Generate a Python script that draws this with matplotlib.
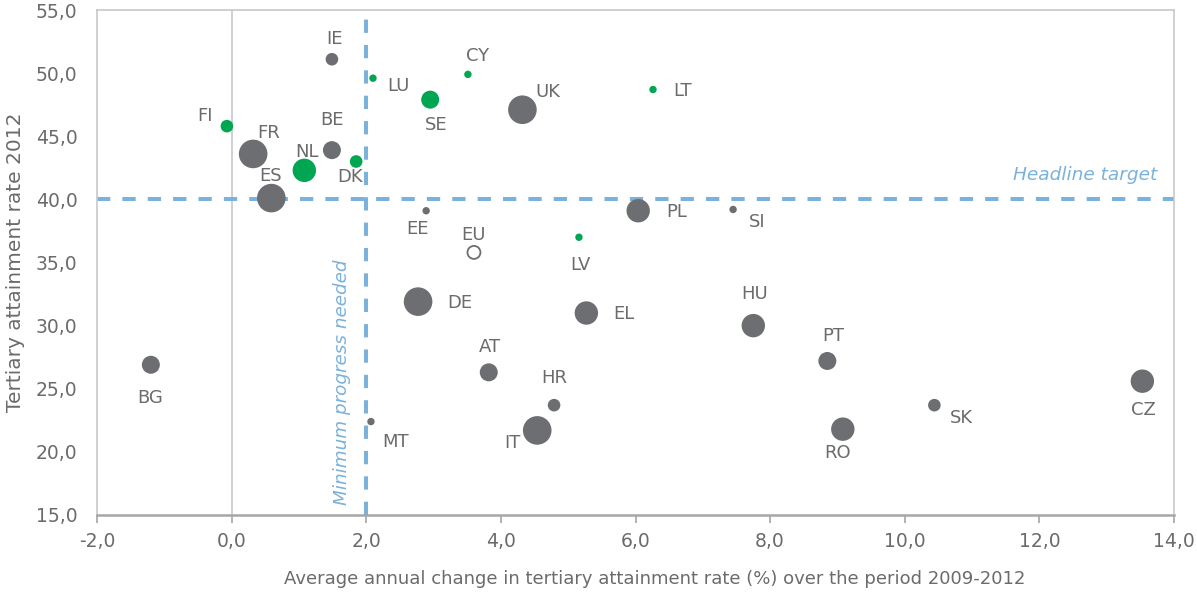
import matplotlib
matplotlib.use("Agg")
import matplotlib.pyplot as plt
import numpy as np

# ---- data ----
countries = ["IE", "LU", "FI", "FR", "BE", "NL", "DK", "ES", "CY", "SE", "UK", "LT",
             "EE", "LV", "PL", "SI", "DE", "EL", "HU", "AT", "HR", "MT", "IT", "BG",
             "PT", "RO", "SK", "CZ"]
change = [1.49, 2.10, -0.07, 0.32, 1.49, 1.08, 1.85, 0.59, 3.51, 2.95, 4.32, 6.26,
          2.89, 5.16, 6.04, 7.45, 2.77, 5.27, 7.75, 3.82, 4.79, 2.07, 4.54, -1.20,
          8.85, 9.08, 10.44, 13.53]
rate2012 = [51.1, 49.6, 45.8, 43.6, 43.9, 42.3, 43.0, 40.1, 49.9, 47.9, 47.1, 48.7,
            39.1, 37.0, 39.1, 39.2, 31.9, 31.0, 30.0, 26.3, 23.7, 22.4, 21.7, 26.9,
            27.2, 21.8, 23.7, 25.6]
size_class = [2, 1, 2, 5, 3, 4, 2, 5, 1, 3, 5, 1,
              1, 1, 4, 1, 5, 4, 4, 3, 2, 1, 5, 3,
              3, 4, 2, 4]
on_track = [False, True, True, False, False, True, True, False, True, True, False, True,
            False, True, False, False, False, False, False, False, False, False, False, False,
            False, False, False, False]
eu_label = "EU"
eu_change = 3.60
eu_rate = 35.8
headline_target = 40.0
min_progress = 2.0

xticks = np.arange(-2, 14.1, 2)
yticks = np.arange(15, 55.1, 5)

# label offsets in pixels (dx, dy up)
label_offsets = {
    "IE": (3, 20), "LU": (25, -8), "FI": (-22, 10), "FR": (15, 21), "BE": (0, 30),
    "NL": (3, 18), "DK": (-6, -16), "ES": (-1, 22), "CY": (10, 18), "SE": (6, -25),
    "UK": (25, 18), "LT": (30, -1), "EE": (-9, -18), "LV": (1, -28), "PL": (38, -1),
    "SI": (24, -13), "DE": (42, -1), "EL": (38, -1), "HU": (1, 32), "AT": (1, 25),
    "HR": (0, 27), "MT": (25, -20), "IT": (-25, -13), "BG": (-1, -33), "PT": (6, 25),
    "RO": (-5, -24), "SK": (27, -13), "CZ": (1, -29),
}
radius_px = {1: 3.7, 2: 6.3, 3: 9.0, 4: 11.7, 5: 14.3}

GREY = "#6D6E71"
GREEN = "#00A651"
BLUE = "#7AB2DC"
TEXT = "#6B6B6B"
FRAME = "#C8C8C8"

plt.rcParams["font.family"] = ["DejaVu Sans"]

fig = plt.figure(figsize=(11.97, 5.94), dpi=100)
ax = fig.add_axes([97 / 1197, 1 - 515 / 594, (1174 - 97) / 1197, (515 - 10) / 594])
ax.set_xlim(-2, 14)
ax.set_ylim(15, 55)

px2pt = 72 / 100
# reference lines
ax.axvline(0, color=FRAME, lw=1.2, zorder=1)
ax.axhline(headline_target, color=BLUE, lw=2.9, ls=(0, (3.3, 3.0)), zorder=2)
ax.axvline(min_progress, color=BLUE, lw=2.9, ls=(0, (3.3, 3.0)), zorder=2)

LABEL_FS = 13
for c, x, y, sc, ok in zip(countries, change, rate2012, size_class, on_track):
    d_pt = 2 * radius_px[sc] * px2pt
    ax.scatter([x], [y], s=d_pt ** 2, color=GREEN if ok else GREY,
               edgecolors="none", zorder=3)
    dx, dy = label_offsets[c]
    ax.annotate(c, (x, y), xytext=(dx, dy), textcoords="offset pixels",
                ha="center", va="center", fontsize=LABEL_FS, color=TEXT, zorder=4)

ax.scatter([eu_change], [eu_rate], s=(13 * px2pt) ** 2, facecolors="none",
           edgecolors=GREY, linewidths=1.3, zorder=3)
ax.annotate(eu_label, (eu_change, eu_rate), xytext=(0, 17), textcoords="offset pixels",
            ha="center", va="center", fontsize=LABEL_FS, color=TEXT, zorder=4)

ax.text(13.75, 41.9, "Headline target", color=BLUE, fontsize=13.3, style="italic",
        ha="right", va="center")
ax.text(1.64, 15.8, "Minimum progress needed", color=BLUE, fontsize=13.2, style="italic",
        rotation=90, ha="center", va="bottom")

ax.set_xticks(xticks)
ax.set_yticks(yticks)
ax.set_xticklabels([f"{v:.1f}".replace(".", ",") for v in xticks])
ax.set_yticklabels([f"{v:.1f}".replace(".", ",") for v in yticks])
ax.tick_params(axis="x", direction="out", length=6, width=1.2, color="#A6A6A6",
               labelsize=13.5, labelcolor=TEXT, pad=6)
ax.tick_params(axis="y", length=0, labelsize=13.5, labelcolor=TEXT, pad=14)

for side in ["top", "right", "left"]:
    ax.spines[side].set_color(FRAME)
    ax.spines[side].set_linewidth(1.2)
ax.spines["bottom"].set_color("#A6A6A6")
ax.spines["bottom"].set_linewidth(1.8)

ax.set_xlabel("Average annual change in tertiary attainment rate (%) over the period 2009-2012",
              fontsize=13, color=TEXT)
ax.xaxis.set_label_coords(0.518, -0.108)
ax.set_ylabel("Tertiary attainment rate 2012", fontsize=14.5, color=TEXT, labelpad=8)

fig.savefig("out.png", dpi=100)
